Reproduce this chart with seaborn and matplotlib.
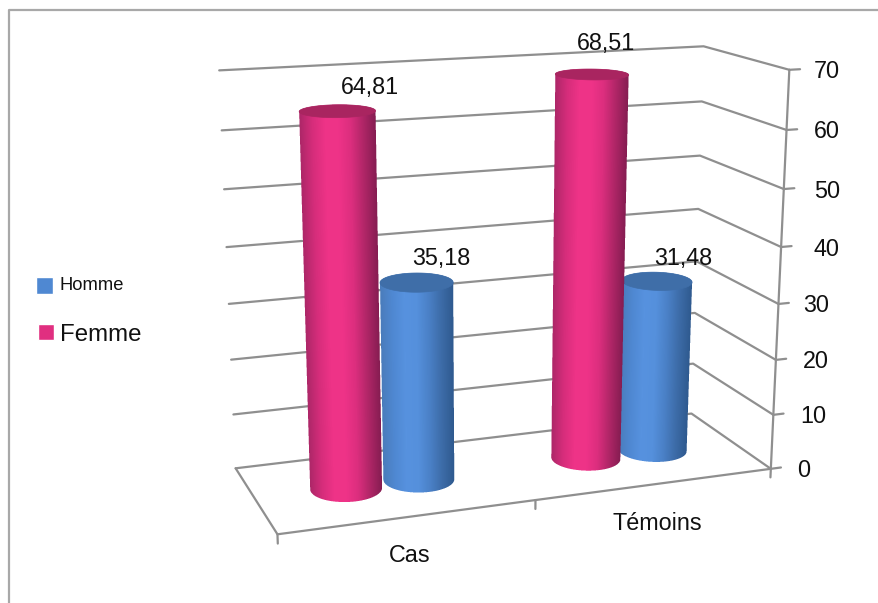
import numpy as np
import pandas as pd
import matplotlib
matplotlib.use("Agg")
import matplotlib.pyplot as plt
from matplotlib.colors import ListedColormap
from matplotlib.patches import Patch
import seaborn as sns

# Chart values
categories = ["Cas", "Témoins"]
homme_values = [35.18, 31.48]
femme_values = [64.81, 68.51]
value_ticks = [0, 10, 20, 30, 40, 50, 60, 70]

# Camera calibration: box corners (x, depth, value) and where they land on the canvas
BOX_POINTS = [(0, 1, 0), (2, 1, 0), (2, 0, 0), (0, 0, 0), (1, 0, 0),
              (0, 1, 70), (2, 1, 70), (2, 0, 70)]
CANVAS_POINTS = [(236, 468), (690, 414), (772, 468), (277, 534), (536, 501),
                 (219, 70.5), (705, 46), (788, 70)]


def fit_camera(world, canvas):
    rows, rhs = [], []
    for (x, d, v), (u, w) in zip(world, canvas):
        rows.append([x, d, v, 1, 0, 0, 0, 0, -u * x, -u * d, -u * v])
        rows.append([0, 0, 0, 0, x, d, v, 1, -w * x, -w * d, -w * v])
        rhs += [u, w]
    p = np.linalg.lstsq(np.array(rows, float), np.array(rhs, float), rcond=None)[0]
    return np.append(p, 1.0).reshape(3, 4)


CAMERA = fit_camera(BOX_POINTS, CANVAS_POINTS)


def project(x, d, v):
    x, d, v = np.broadcast_arrays(np.asarray(x, float), np.asarray(d, float), np.asarray(v, float))
    h = np.einsum("ij,j...->i...", CAMERA, np.stack([x, d, v, np.ones_like(x)]))
    return h[0] / h[2], h[1] / h[2]


sns.set_theme(style="white", rc={"axes.edgecolor": "white"})
plt.rcParams["font.family"] = ["Liberation Sans", "DejaVu Sans"]

fig = plt.figure(figsize=(8.79, 6.03), dpi=100)
ax = fig.add_axes([0, 0, 1, 1])

GRID = "#8f8f8f"

# Outer chart border
ax.plot([9, 9, 879], [603, 10, 10], color="#a8a8a8", lw=1.6, zorder=1)

# Wall gridlines and the floor outline, collected as long-form paths
paths = []


def add_path(name, xs, ds, vs):
    px, py = project(xs, ds, vs)
    paths.extend({"path": name, "order": i, "px": a, "py": b} for i, (a, b) in enumerate(zip(px, py)))


for tick in value_ticks:
    add_path(f"v{tick}", [0, 2, 2], [1, 1, 0], [tick] * 3)
    add_path(f"t{tick}", [2, 2.045], [0, 0], [tick, tick])
add_path("floor", [0, 0, 2], [1, 0, 0], [0, 0, 0])
add_path("axis", [2, 2], [0, 0], [0, 70])
for slot in range(len(categories) + 1):
    add_path(f"c{slot}", [slot, slot], [0, 0], [0, -1.6])
sns.lineplot(data=pd.DataFrame(paths), x="px", y="py", units="path", estimator=None, sort=False,
             color=GRID, lw=1.6, ax=ax, legend=False, zorder=2)

# Shading across a cylinder, left edge to right edge
pink_ramp = ListedColormap(sns.blend_palette(
    ["#ad2768", "#d62d7b", "#ee3387", "#ef3388", "#dc2e7e", "#b02667", "#861d52"], 256))
blue_ramp = ListedColormap(sns.blend_palette(
    ["#4a7cbb", "#4f88d2", "#5792df", "#5590dc", "#4a80c6", "#3d6ca8", "#2f5a8f"], 256))
PINK_TOP, BLUE_TOP = "#a92560", "#3f6ea8"

RADIUS_X, RADIUS_D = 0.138, 0.2
OFFSET_FEMME, OFFSET_HOMME = 0.144, 0.15
DEPTH = 0.5
THETA = np.linspace(0, 2 * np.pi, 361)
SUPERSAMPLE = 4


def arc_height(grid_x, arc_u, arc_w):
    order = np.argsort(arc_u)
    return np.interp(grid_x, arc_u[order], arc_w[order])


def cylinder(cx, value, ramp, top_colour, z):
    ring_x = cx + RADIUS_X * np.cos(THETA)
    ring_d = DEPTH + RADIUS_D * np.sin(THETA)
    base_u, base_w = project(ring_x, ring_d, 0)
    top_u, top_w = project(ring_x, ring_d, value)

    # Silhouette edges run between the outermost points of the two rings
    b_lo, b_hi = np.argmin(base_u), np.argmax(base_u)
    t_lo, t_hi = np.argmin(top_u), np.argmax(top_u)
    left_u, left_w = (base_u[b_lo], top_u[t_lo]), (base_w[b_lo], top_w[t_lo])
    right_u, right_w = (base_u[b_hi], top_u[t_hi]), (base_w[b_hi], top_w[t_hi])

    # Lower outline of the base ring and upper outline of the cap
    base_front = base_w >= np.interp(base_u, [left_u[0], right_u[0]], [left_w[0], right_w[0]])
    top_back = top_w <= np.interp(top_u, [left_u[1], right_u[1]], [left_w[1], right_w[1]])

    def across(gx, gy):
        lo = left_u[0] + (gy - left_w[0]) * (left_u[1] - left_u[0]) / (left_w[1] - left_w[0])
        hi = right_u[0] + (gy - right_w[0]) * (right_u[1] - right_u[0]) / (right_w[1] - right_w[0])
        return (gx - lo) / (hi - lo)

    x0 = int(np.floor(min(base_u.min(), top_u.min()))) - 2
    x1 = int(np.ceil(max(base_u.max(), top_u.max()))) + 2
    y0 = int(np.floor(top_w.min())) - 2
    y1 = int(np.ceil(base_w.max())) + 2
    width, height = x1 - x0, y1 - y0

    # Edge coverage from a finer grid, colour from the pixel centres
    fine_x, fine_y = np.meshgrid(x0 + (np.arange(width * SUPERSAMPLE) + 0.5) / SUPERSAMPLE,
                                 y0 + (np.arange(height * SUPERSAMPLE) + 0.5) / SUPERSAMPLE)
    fine_t = across(fine_x, fine_y)
    inside = ((fine_t >= 0) & (fine_t <= 1)
              & (fine_y <= arc_height(fine_x, base_u[base_front], base_w[base_front]))
              & (fine_y >= arc_height(fine_x, top_u[top_back], top_w[top_back])))
    coverage = inside.reshape(height, SUPERSAMPLE, width, SUPERSAMPLE).mean(axis=(1, 3))

    pix_x, pix_y = np.meshgrid(x0 + np.arange(width) + 0.5, y0 + np.arange(height) + 0.5)
    rgba = ramp(np.clip(across(pix_x, pix_y), 0, 1))
    rgba[..., 3] = coverage
    ax.imshow(rgba, extent=(x0, x1, y1, y0), origin="upper", interpolation="nearest",
              aspect="auto", zorder=z)

    ax.fill(top_u, top_w, color=top_colour, lw=0.5, zorder=z + 0.1)
    return project(cx, DEPTH, value)


tops = {}
for i, cat in enumerate(categories):
    tops[cat, "Homme"] = cylinder(i + 0.5 + OFFSET_HOMME, homme_values[i], blue_ramp, BLUE_TOP, 3 + i)
    tops[cat, "Femme"] = cylinder(i + 0.5 - OFFSET_FEMME, femme_values[i], pink_ramp, PINK_TOP, 3.5 + i)

ax.set_xlim(0, 879)
ax.set_ylim(603, 0)
ax.axis("off")

# Value labels, set off from the top of their cylinders
TEXT = "#111111"
LABEL_PT = 16.8
label_shift = {("Cas", "Femme"): (33, -24), ("Cas", "Homme"): (25, -24),
               ("Témoins", "Femme"): (14, -31), ("Témoins", "Homme"): (26, -23)}
for i, cat in enumerate(categories):
    for name, vals in (("Homme", homme_values), ("Femme", femme_values)):
        u, w = tops[cat, name]
        du, dw = label_shift[cat, name]
        ax.text(float(u) + du, float(w) + dw, f"{vals[i]:.2f}".replace(".", ","), ha="center", va="center",
                fontsize=LABEL_PT, color=TEXT, zorder=10)

# Value axis labels
tick_right = [810, 826, 829, 829, 840, 840, 840, 840]
for tick, right in zip(value_ticks, tick_right):
    _, w = project(2, 0, tick)
    ax.text(right, float(w) + 2, str(tick), ha="right", va="center", fontsize=LABEL_PT, color=TEXT, zorder=10)

# Category labels
for cat, pos in zip(categories, [(410, 555), (657, 524)]):
    ax.text(*pos, cat, ha="center", va="center", fontsize=LABEL_PT, color=TEXT, zorder=10)

# Legend
handles = [Patch(facecolor="#4f88d2", label="Homme"), Patch(facecolor="#e02f80", label="Femme")]
leg = ax.legend(handles=handles, loc="upper left", bbox_to_anchor=(36.5 / 879, 1 - 273 / 603), frameon=False,
                handlelength=0.67, handleheight=0.67, handletextpad=0.3,
                labelspacing=1.25, borderpad=0, borderaxespad=0,
                prop={"family": "Liberation Sans", "size": 17.3})
leg.get_texts()[0].set_fontsize(13.2)
for t in leg.get_texts():
    t.set_color(TEXT)
homme_box, femme_box = leg.legend_handles
homme_box.set_y(homme_box.get_y() - 3)
femme_box.set_x(femme_box.get_x() + 1.2)

fig.savefig("out.png", dpi=100, facecolor="white")
